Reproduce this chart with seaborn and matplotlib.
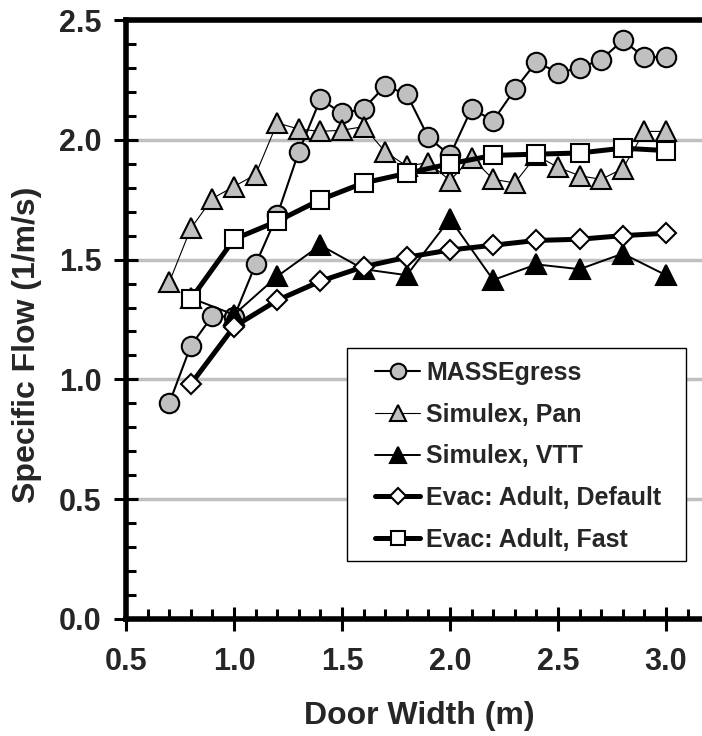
import matplotlib
matplotlib.use("Agg")
import matplotlib.pyplot as plt
import seaborn as sns
from matplotlib.ticker import MultipleLocator, FormatStrFormatter
from matplotlib.patches import Rectangle

# ---------------- data ----------------
mass_x = [0.7, 0.8, 0.9, 1.0, 1.1, 1.2, 1.3, 1.4, 1.5, 1.6, 1.7, 1.8,
          1.9, 2.0, 2.1, 2.2, 2.3, 2.4, 2.5, 2.6, 2.7, 2.8, 2.9, 3.0]
mass_y = [0.90, 1.14, 1.265, 1.26, 1.48, 1.685, 1.95, 2.17, 2.11, 2.13, 2.225, 2.19,
          2.01, 1.935, 2.13, 2.08, 2.21, 2.325, 2.28, 2.30, 2.335, 2.415, 2.345, 2.345]

pan_x = [0.7, 0.8, 0.9, 1.0, 1.1, 1.2, 1.3, 1.4, 1.5, 1.6, 1.7, 1.8,
         1.9, 2.0, 2.1, 2.2, 2.3, 2.4, 2.5, 2.6, 2.7, 2.8, 2.9, 3.0]
pan_y = [1.405, 1.63, 1.755, 1.805, 1.855, 2.07, 2.045, 2.035, 2.04, 2.055, 1.95, 1.89,
         1.905, 1.83, 1.925, 1.835, 1.82, 1.935, 1.885, 1.85, 1.835, 1.88, 2.035, 2.035]

vtt_x = [0.8, 1.0, 1.2, 1.4, 1.6, 1.8, 2.0, 2.2, 2.4, 2.6, 2.8, 3.0]
vtt_y = [1.34, 1.27, 1.43, 1.56, 1.46, 1.435, 1.67, 1.415, 1.48, 1.46, 1.525, 1.435]

evd_x = [0.8, 1.0, 1.2, 1.4, 1.6, 1.8, 2.0, 2.2, 2.4, 2.6, 2.8, 3.0]
evd_y = [0.98, 1.22, 1.33, 1.41, 1.47, 1.51, 1.54, 1.56, 1.58, 1.585, 1.60, 1.61]

evf_x = [0.8, 1.0, 1.2, 1.4, 1.6, 1.8, 2.0, 2.2, 2.4, 2.6, 2.8, 3.0]
evf_y = [1.335, 1.585, 1.66, 1.75, 1.82, 1.86, 1.90, 1.935, 1.94, 1.945, 1.965, 1.955]

series_names = ["MASSEgress", "Simulex, Pan", "Simulex, VTT",
                "Evac: Adult, Default", "Evac: Adult, Fast"]
x_label = "Door Width (m)"
y_label = "Specific Flow (1/m/s)"

# ---------------- style ----------------
sns.set_style("white")
plt.rcParams['font.family'] = ['Liberation Sans', 'DejaVu Sans']
plt.rcParams['font.weight'] = 'bold'
plt.rcParams['axes.labelweight'] = 'bold'

GRAY = '#c0c0c0'

fig = plt.figure(figsize=(7.02, 7.36), dpi=100)
ax = fig.add_axes([126 / 702, 1 - 619 / 736, 576 / 702, 599 / 736])

styles = [
    dict(marker='o', markersize=14, markerfacecolor=GRAY, linewidth=1.5),
    dict(marker='^', markersize=15, markerfacecolor=GRAY, linewidth=0.8),
    dict(marker='^', markersize=15, markerfacecolor='black', linewidth=1.4),
    dict(marker='D', markersize=10, markerfacecolor='white', linewidth=3.6),
    dict(marker='s', markersize=13, markerfacecolor='white', linewidth=3.6),
]
data = [(mass_x, mass_y), (pan_x, pan_y), (vtt_x, vtt_y), (evd_x, evd_y), (evf_x, evf_y)]

for (xs, ys), name, st in zip(data, series_names, styles):
    sns.lineplot(x=xs, y=ys, ax=ax, color='black', markeredgecolor='black',
                 markeredgewidth=1.5, errorbar=None, legend=False, label=name, **st)

ax.set_xlim(0.5, 0.5 + 576 / 216)
ax.set_ylim(0.0, 2.5)

ax.xaxis.set_major_locator(MultipleLocator(0.5))
ax.xaxis.set_minor_locator(MultipleLocator(0.1))
ax.yaxis.set_major_locator(MultipleLocator(0.5))
ax.yaxis.set_minor_locator(MultipleLocator(0.1))
ax.xaxis.set_major_formatter(FormatStrFormatter('%.1f'))
ax.yaxis.set_major_formatter(FormatStrFormatter('%.1f'))

ax.tick_params(which='major', direction='inout', length=17, width=2.2, color='black',
               labelsize=22, bottom=True, left=True, top=False, right=False)
ax.tick_params(which='minor', direction='in', length=7, width=2.2, color='black',
               bottom=True, left=True, top=False, right=False)
ax.tick_params(axis='y', which='major', pad=9)
ax.tick_params(axis='x', which='major', pad=12)

ax.set_axisbelow(True)
ax.yaxis.grid(True, which='major', color=GRAY, linewidth=2.5)
ax.xaxis.grid(False)

for side in ['left', 'bottom', 'top']:
    ax.spines[side].set_linewidth(4)
    ax.spines[side].set_color('black')
ax.spines['right'].set_visible(False)

ax.set_xlabel(x_label, fontsize=23, fontweight='bold')
ax.set_ylabel(y_label, fontsize=23, fontweight='bold')
ax.xaxis.set_label_coords(0.509, -0.162)
ax.yaxis.set_label_coords(-0.172, 0.457)
ax.xaxis.label.set_va('center')
ax.yaxis.label.set_va('center')

# legend frame
frame = Rectangle((0.3832, 0.0973), 0.589, 0.3556, transform=ax.transAxes,
                  facecolor='white', edgecolor='black', linewidth=1.0, zorder=5)
ax.add_patch(frame)

handles, labels = ax.get_legend_handles_labels()
leg = ax.legend(handles, labels, loc='upper left', bbox_to_anchor=(0.4323, 0.431),
                frameon=False, handlelength=1.8, handletextpad=0.24,
                labelspacing=0.71, borderpad=0, borderaxespad=0, markerscale=0.8,
                prop={'weight': 'bold', 'size': 18})
leg.set_zorder(6)

fig.savefig("out.png", dpi=100)
